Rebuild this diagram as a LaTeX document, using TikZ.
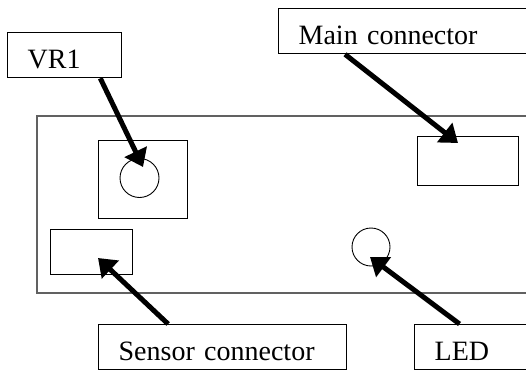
\documentclass[tikz,border=0pt]{standalone}
\usepackage{fontspec}
\setmainfont{Liberation Serif}
\usetikzlibrary{arrows.meta}
\tikzset{
  callout/.style={draw,line width=1.3pt,anchor=north west,align=left,
    inner xsep=20pt,inner ysep=0pt,text height=35.5pt,text depth=9.5pt,
    font=\fontsize{28}{32}\selectfont},
  part/.style={draw,line width=0.9pt,inner sep=0pt},
  pointer/.style={-{Triangle[length=17pt,width=24pt]},line width=5pt}
}
\begin{document}
\begin{tikzpicture}[x=1pt,y=-1pt]
  \useasboundingbox (0,0) rectangle (526,372);
  % board and its parts
  \draw[black!62,line width=1.5pt] (560,116) -| (37,293) -- (560,293);
  \node[part,anchor=north west,minimum width=89pt,minimum height=78pt] (potbox) at (98,140) {};
  \node[part,circle,minimum size=39pt] (pot) at (139.5,178) {};
  \node[part,anchor=north west,minimum width=101pt,minimum height=49pt] (mainsock) at (417,136) {};
  \node[part,anchor=north west,minimum width=82pt,minimum height=45pt] (sensock) at (50,229) {};
  \node[part,circle,minimum size=38pt] (led) at (371,247) {};
  % labels
  \node[callout,text width=74pt] (vrlbl) at (7,32) {VR1};
  \node[callout,text width=220pt] (mainlbl) at (278,8) {Main connector};
  \node[callout,text width=90pt] (ledlbl) at (414,324) {LED};
  \node[callout,text width=208pt] (senlbl) at (98,324) {Sensor connector};
  % arrow tips
  \coordinate (vrtip) at (143,167);
  \coordinate (maintip) at (458,143);
  \coordinate (sentip) at (98,258);
  \coordinate (ledtip) at (370,257);
  \path[pointer]
  (vrlbl.-33) edge (vrtip)
  (mainlbl.-160.3) edge (maintip)
  (senlbl.157.8) edge (sentip)
  (ledlbl.131.6) edge (ledtip);
\end{tikzpicture}
\end{document}
